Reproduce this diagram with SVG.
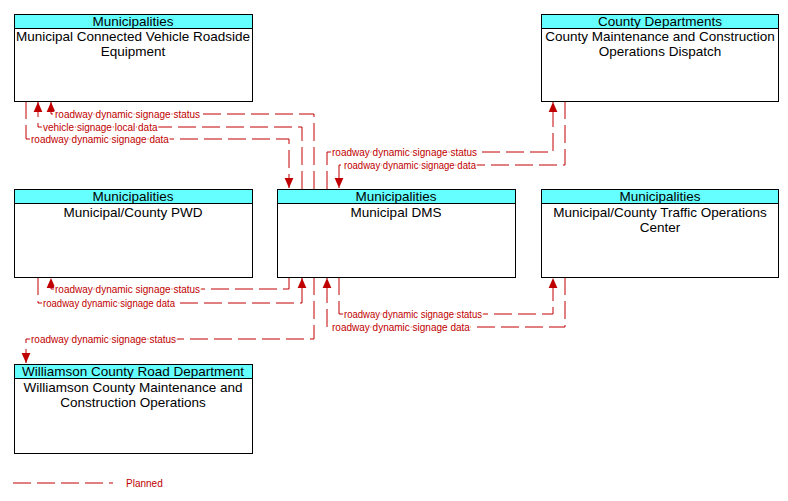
<svg xmlns="http://www.w3.org/2000/svg" width="788" height="501" viewBox="0 0 788 501">
<style>
.box{fill:#ffffff;stroke:#000000;stroke-width:1}
.hdr{fill:#66ffff;stroke:#000000;stroke-width:1}
.t{font-family:"Liberation Sans",Arial,sans-serif;font-size:13.5px;fill:#000000;text-anchor:middle}
.c{fill:none;stroke:#c00000;stroke-width:1;stroke-dasharray:18 6}
.l{font-family:"Liberation Sans",Arial,sans-serif;font-size:10px;fill:#c00000;stroke:#ffffff;stroke-width:3;paint-order:stroke;stroke-linejoin:round}
</style>
<defs>
<marker id="ah" markerUnits="userSpaceOnUse" markerWidth="10" markerHeight="10" viewBox="0 0 8 8" refX="8" refY="4" orient="auto">
<path d="M0,0.5 L8,4 L0,7.5 z" fill="#c00000"/>
</marker>
</defs>
<rect width="788" height="501" fill="#ffffff"/>

<g id="connectors">
<path class="c" d="M26,101 V139 H289 V188" marker-end="url(#ah)"/>
<path class="c" d="M302,189 V127 H38 V102" marker-end="url(#ah)"/>
<path class="c" d="M314,189 V114 H51 V102" marker-end="url(#ah)"/>
<path class="c" d="M327,189 V152 H553 V102" marker-end="url(#ah)"/>
<path class="c" d="M565,101 V165 H339 V188" marker-end="url(#ah)"/>
<path class="c" d="M38,277 V303 H302 V278" marker-end="url(#ah)"/>
<path class="c" d="M289,277 V289 H51 V278" marker-end="url(#ah)"/>
<path class="c" d="M314,277 V339 H26 V363" marker-end="url(#ah)"/>
<path class="c" d="M339,277 V314 H553 V278" marker-end="url(#ah)"/>
<path class="c" d="M565,277 V327 H327 V278" marker-end="url(#ah)"/>
<text class="l" x="55" y="118">roadway dynamic signage status</text>
<text class="l" x="43" y="131">vehicle signage local data</text>
<text class="l" x="31" y="143">roadway dynamic signage data</text>
<text class="l" x="332" y="156">roadway dynamic signage status</text>
<text class="l" x="344" y="169" textLength="132" lengthAdjust="spacingAndGlyphs">roadway dynamic signage data</text>
<text class="l" x="55" y="293">roadway dynamic signage status</text>
<text class="l" x="43" y="307" textLength="132" lengthAdjust="spacingAndGlyphs">roadway dynamic signage data</text>
<text class="l" x="344" y="318" textLength="138" lengthAdjust="spacingAndGlyphs">roadway dynamic signage status</text>
<text class="l" x="332" y="331">roadway dynamic signage data</text>
<text class="l" x="31" y="343">roadway dynamic signage status</text>
</g>

<g id="node-rse">
<rect class="box" x="14.5" y="14.5" width="238" height="87"/>
<rect class="hdr" x="14.5" y="14.5" width="238" height="14"/>
<text class="t" x="133" y="25.5">Municipalities</text>
<text class="t" x="133" y="40.5">Municipal Connected Vehicle Roadside</text>
<text class="t" x="133" y="55.5">Equipment</text>
</g>

<g id="node-county">
<rect class="box" x="541.5" y="14.5" width="237" height="87"/>
<rect class="hdr" x="541.5" y="14.5" width="237" height="14"/>
<text class="t" x="660" y="25.5">County Departments</text>
<text class="t" x="660" y="40.5">County Maintenance and Construction</text>
<text class="t" x="660" y="55.5">Operations Dispatch</text>
</g>

<g id="node-pwd">
<rect class="box" x="14.5" y="189.5" width="238" height="88"/>
<rect class="hdr" x="14.5" y="189.5" width="238" height="14"/>
<text class="t" x="133" y="200.5">Municipalities</text>
<text class="t" x="133" y="216.5">Municipal/County PWD</text>
</g>

<g id="node-dms">
<rect class="box" x="277.5" y="189.5" width="238" height="88"/>
<rect class="hdr" x="277.5" y="189.5" width="238" height="14"/>
<text class="t" x="396" y="200.5">Municipalities</text>
<text class="t" x="396" y="216.5">Municipal DMS</text>
</g>

<g id="node-toc">
<rect class="box" x="541.5" y="189.5" width="237" height="88"/>
<rect class="hdr" x="541.5" y="189.5" width="237" height="14"/>
<text class="t" x="660" y="200.5">Municipalities</text>
<text class="t" x="660" y="216.5">Municipal/County Traffic Operations</text>
<text class="t" x="660" y="231.5">Center</text>
</g>

<g id="node-williamson">
<rect class="box" x="14.5" y="364.5" width="238" height="89"/>
<rect class="hdr" x="14.5" y="364.5" width="238" height="14"/>
<text class="t" x="133" y="375.5">Williamson County Road Department</text>
<text class="t" x="133" y="391.5">Williamson County Maintenance and</text>
<text class="t" x="133" y="406.5">Construction Operations</text>
</g>

<g id="legend">
<path class="c" d="M13,483 H113"/>
<text class="l" x="126" y="487" style="stroke:none">Planned</text>
</g>
</svg>
